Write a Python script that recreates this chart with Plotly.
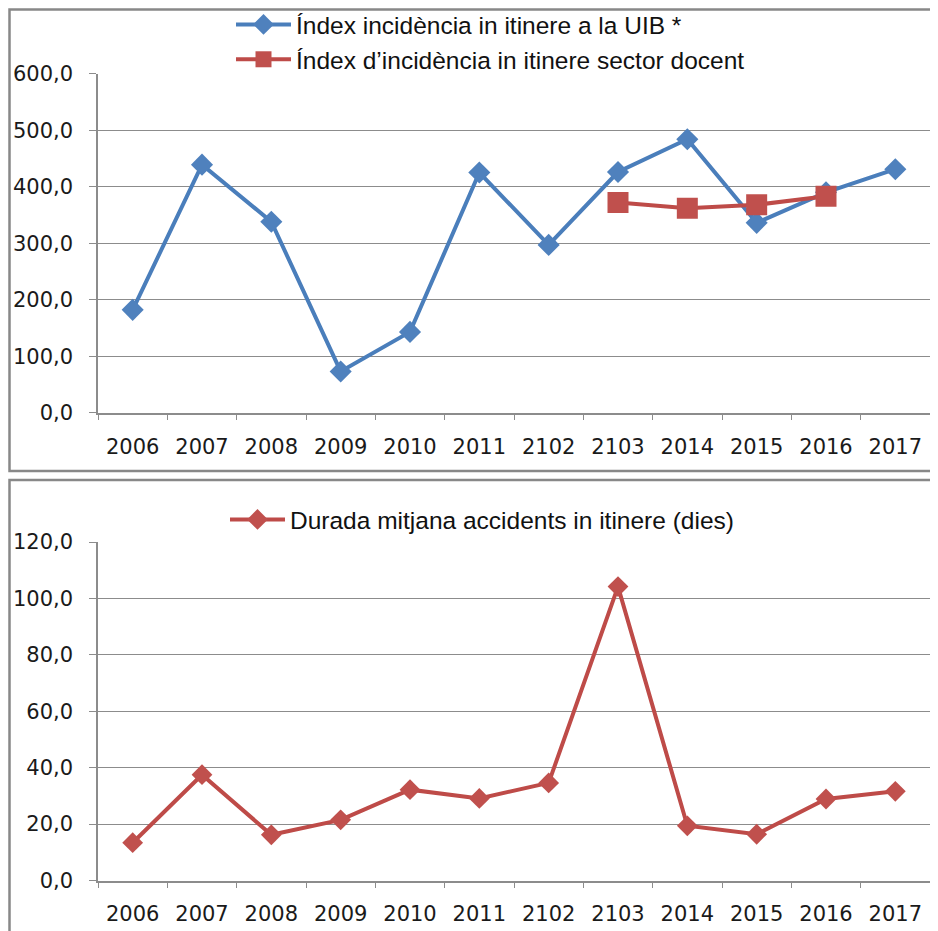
import plotly.graph_objects as go
from plotly.subplots import make_subplots

# ---------------------------------------------------------------------------
# Data
# ---------------------------------------------------------------------------
years = ["2006", "2007", "2008", "2009", "2010", "2011",
         "2102", "2103", "2014", "2015", "2016", "2017"]

index_uib = [182, 439, 338, 73, 143, 425, 297, 426, 484, 336, 390, 431]

sector_years = ["2103", "2014", "2015", "2016"]
index_docent = [372, 362, 368, 383]

durada = [13.4, 37.5, 16.2, 21.5, 32.2, 29.1, 34.6, 104.2, 19.4, 16.4, 28.9, 31.6]

# the page body adds an 8px margin, so the figure is 8px smaller than the window
OFF = 8
W, H = 938 - OFF, 931 - OFF


def fx(px):
    """window x pixel -> paper fraction"""
    return (px - OFF) / W


def fy(px):
    """window y pixel (from top) -> paper fraction"""
    return 1 - (px - OFF) / H


BLUE, BLUE_LINE = "#4F81BD", "#4A7EBB"
RED, RED_LINE = "#C0504D", "#BE4B48"
GRID = "#8C8C8C"
TICK_FONT = dict(family="DejaVu Sans, Verdana, sans-serif", size=21, color="#1a1a1a")
LEG_FONT = dict(family="Liberation Sans, Arial, sans-serif", size=24.5, color="#111111")

fig = make_subplots(rows=2, cols=1)

fig.add_trace(
    go.Scatter(x=years, y=index_uib, name="Índex incidència in itinere a la UIB *",
               mode="lines+markers", line=dict(color=BLUE_LINE, width=4),
               marker=dict(symbol="diamond", size=17, color=BLUE),
               legend="legend", legendgroup="a"),
    row=1, col=1,
)
fig.add_trace(
    go.Scatter(x=sector_years, y=index_docent,
               name="Índex d’incidència in itinere sector docent",
               mode="lines+markers", line=dict(color=RED_LINE, width=4),
               marker=dict(symbol="square", size=21, color=RED),
               legend="legend", legendgroup="b"),
    row=1, col=1,
)
fig.add_trace(
    go.Scatter(x=years, y=durada, name="Durada mitjana accidents in itinere (dies)",
               mode="lines+markers", line=dict(color=RED_LINE, width=4),
               marker=dict(symbol="diamond", size=16, color=RED),
               legend="legend2"),
    row=2, col=1,
)

x_dom = [fx(98), fx(930)]
fig.update_layout(
    width=W, height=H,
    margin=dict(l=0, r=0, t=0, b=0, autoexpand=False),
    paper_bgcolor="white", plot_bgcolor="white",
    separators=", ",
    xaxis=dict(domain=x_dom),
    yaxis=dict(domain=[fy(412.7), fy(73.7)]),
    xaxis2=dict(domain=x_dom),
    yaxis2=dict(domain=[fy(880.5), fy(542)]),
    legend=dict(x=fx(231), xanchor="left", y=fy(2), yanchor="top", itemwidth=55,
                font=LEG_FONT, bgcolor="rgba(0,0,0,0)", tracegroupgap=0),
    legend2=dict(x=fx(225), xanchor="left", y=fy(497), yanchor="top", itemwidth=55,
                 font=LEG_FONT, bgcolor="rgba(0,0,0,0)"),
    shapes=[
        dict(type="rect", xref="paper", yref="paper", x0=fx(9.5), x1=1.02,
             y0=fy(471), y1=fy(9.5), line=dict(color="#888888", width=2.5)),
        dict(type="rect", xref="paper", yref="paper", x0=fx(9.5), x1=1.02,
             y0=-0.02, y1=fy(480), line=dict(color="#888888", width=2.5)),
    ],
)

fig.update_xaxes(
    type="category", categoryorder="array", categoryarray=years,
    tickson="boundaries", ticks="outside", ticklen=6, tickcolor=GRID,
    showline=True, linecolor=GRID, linewidth=1.5, showgrid=False, automargin=False,
    tickfont=TICK_FONT, ticklabelstandoff=14, range=[-0.5, 11.5],
)
fig.update_yaxes(
    ticks="outside", ticklen=7, tickcolor=GRID, tickformat=".1f",
    showline=True, linecolor=GRID, linewidth=1.5, automargin=False,
    showgrid=True, gridcolor=GRID, gridwidth=1.2, zeroline=False,
    tickfont=TICK_FONT, ticklabelstandoff=12,
)
fig.update_yaxes(range=[0, 600], dtick=100, row=1, col=1)
fig.update_yaxes(range=[0, 120], dtick=20, row=2, col=1)

fig.write_html("out.html")
